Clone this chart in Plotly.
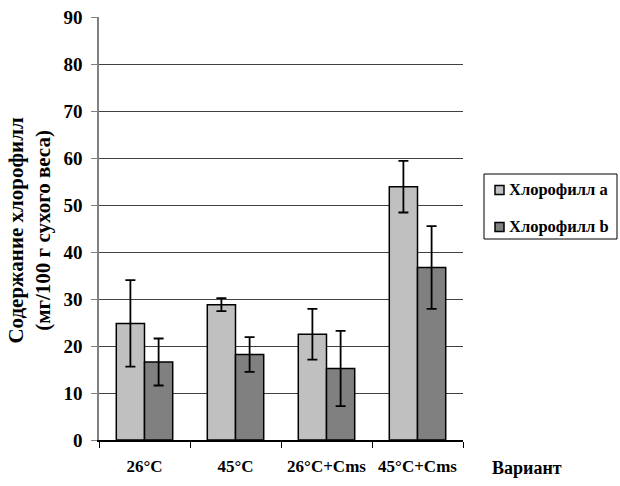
import plotly.graph_objects as go

categories = ["26°C", "45°C", "26°C+Cms", "45°C+Cms"]
chl_a = [24.8, 28.8, 22.5, 53.9]
chl_a_err = [9.2, 1.4, 5.4, 5.5]
chl_b = [16.6, 18.2, 15.2, 36.7]
chl_b_err = [5.0, 3.7, 8.0, 8.8]
series_names = ["Хлорофилл a", "Хлорофилл b"]
series_colors = ["#c0c0c0", "#808080"]
y_ticks = [0, 10, 20, 30, 40, 50, 60, 70, 80, 90]

FONT = "Liberation Serif"

fig = go.Figure()
for vals, errs, name, col in [(chl_a, chl_a_err, series_names[0], series_colors[0]),
                              (chl_b, chl_b_err, series_names[1], series_colors[1])]:
    fig.add_trace(go.Bar(
        x=categories, y=vals, name=name, showlegend=False,
        marker=dict(color=col, line=dict(color="black", width=1.5)),
        error_y=dict(type="data", array=errs, color="black", thickness=1.8, width=5),
    ))

fig.update_layout(
    width=620, height=486,
    margin=dict(l=99, r=157, t=17, b=46),
    paper_bgcolor="white", plot_bgcolor="white",
    barmode="group", bargap=0.38, bargroupgap=0,
    font=dict(family=FONT, size=17, color="black", weight="bold"),
    showlegend=False,
    xaxis=dict(
        type="category", showline=True, linecolor="black", linewidth=1.5,
        ticks="outside", tickson="boundaries", ticklen=6, tickcolor="black",
        tickfont=dict(family=FONT, size=17, weight="bold"), tickangle=0,
        ticklabelstandoff=10, showgrid=False, automargin=False,
    ),
    yaxis=dict(
        range=[0, 90], tickvals=y_ticks, showline=True, linecolor="#808080",
        linewidth=1.5, ticks="outside", ticklen=6, tickcolor="#808080",
        showgrid=True, gridcolor="#404040", gridwidth=1,
        tickfont=dict(family=FONT, size=19, weight="bold"),
        ticklabelstandoff=5, zeroline=False, automargin=False,
    ),
)

# Y axis title
fig.add_annotation(text="Содержание хлорофилл<br>(мг/100 г сухого веса)",
                   xref="paper", yref="paper", x=-0.19, y=0.497,
                   xanchor="center", yanchor="middle", textangle=-90,
                   showarrow=False, font=dict(family=FONT, size=21, weight="bold"))

# Category axis name
fig.add_annotation(text="Вариант", xref="paper", yref="paper", x=1.176, y=-0.066,
                   xanchor="center", yanchor="middle", showarrow=False,
                   font=dict(family=FONT, size=18, weight="bold"))

# Legend (box, swatches, labels)
def px_x(p):
    return (p - 99) / 364.0

def px_y(p):
    return (440 - p) / 423.0

fig.add_shape(type="rect", xref="paper", yref="paper",
              x0=px_x(484), x1=px_x(617), y0=px_y(239), y1=px_y(174),
              line=dict(color="black", width=1), fillcolor="white")
for i, (name, col) in enumerate(zip(series_names, series_colors)):
    cy = 190 + i * 37
    fig.add_shape(type="rect", xref="paper", yref="paper",
                  x0=px_x(495), x1=px_x(504), y0=px_y(cy + 4.5), y1=px_y(cy - 4.5),
                  line=dict(color="black", width=1.5), fillcolor=col)
    fig.add_annotation(text=name, xref="paper", yref="paper",
                       x=px_x(507), y=px_y(cy - 1), xanchor="left", yanchor="middle",
                       showarrow=False, font=dict(family=FONT, size=16.5, weight="bold"))

fig.write_html("out.html")
